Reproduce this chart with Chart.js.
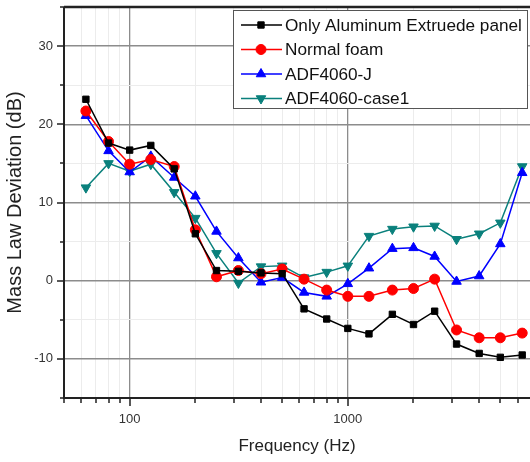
<!DOCTYPE html>
<html>
<head>
<meta charset="utf-8">
<script src="https://cdn.jsdelivr.net/npm/chart.js@4.4.1/dist/chart.umd.min.js"></script>
<style>
  html, body { margin: 0; padding: 0; background: #fff; }
</style>
</head>
<body>
<canvas id="mld-graph" width="530" height="462"></canvas>
<script>
const freqs = [63, 80, 100, 125, 160, 200, 250, 315, 400, 500, 630, 800, 1000, 1250, 1600, 2000, 2500, 3150, 4000, 5000, 6300];
const aluminum = [23.2, 17.6, 16.7, 17.3, 14.3, 6.0, 1.3, 1.2, 1.0, 0.9, -3.6, -4.9, -6.1, -6.8, -4.3, -5.6, -3.9, -8.1, -9.3, -9.8, -9.5];
const normalFoam = [21.7, 17.8, 14.9, 15.5, 14.6, 6.5, 0.5, 1.3, 0.9, 1.5, 0.2, -1.2, -2.0, -2.0, -1.2, -1.0, 0.2, -6.3, -7.3, -7.3, -6.7];
const adfJ = [21.1, 16.6, 13.9, 15.9, 13.2, 10.8, 6.3, 2.9, -0.2, 0.4, -1.5, -2.0, -0.4, 1.6, 4.1, 4.2, 3.1, -0.1, 0.6, 4.7, 13.8];
const adfCase1 = [11.9, 15.0, 14.0, 14.9, 11.3, 8.0, 3.5, -0.3, 1.8, 1.9, 0.4, 1.1, 1.9, 5.7, 6.6, 6.9, 7.0, 5.3, 6.0, 7.4, 14.6];

const xTicks = [50, 60, 70, 80, 90, 100, 200, 300, 400, 500, 600, 700, 800, 900, 1000, 2000, 3000, 4000, 5000, 6000];
const xLabels = [100, 1000];

const FONT = '"Liberation Sans", Arial, sans-serif';

function toPoints(vals) {
  return freqs.map((f, i) => ({ x: f, y: vals[i] }));
}
function isMajorX(v) { return xLabels.indexOf(v) >= 0; }
function isMajorY(v) { return Math.round(v) % 10 === 0; }

// axis frame, tick marks and the boxed legend inside the plot
const frame = {
  id: 'frame',
  afterDraw(chart) {
    const ctx = chart.ctx;
    const a = chart.chartArea;
    const xs = chart.scales.x, ys = chart.scales.y;
    ctx.save();
    ctx.strokeStyle = '#222';
    ctx.lineWidth = 2.5;
    ctx.beginPath();
    ctx.moveTo(a.left, a.top); ctx.lineTo(a.right, a.top);
    ctx.stroke();
    ctx.lineWidth = 2;
    ctx.beginPath();
    ctx.moveTo(a.left, a.top); ctx.lineTo(a.left, a.bottom);
    ctx.lineTo(a.right, a.bottom);
    ctx.stroke();
    ctx.lineWidth = 1.5;
    ctx.beginPath();
    xs.ticks.forEach(t => {
      const px = Math.round(xs.getPixelForValue(t.value));
      const len = isMajorX(t.value) ? 8 : 5;
      ctx.moveTo(px, a.bottom); ctx.lineTo(px, a.bottom + len);
    });
    ys.ticks.forEach(t => {
      const py = Math.round(ys.getPixelForValue(t.value));
      const len = isMajorY(t.value) ? 7 : 4;
      ctx.moveTo(a.left, py); ctx.lineTo(a.left - len, py);
    });
    ctx.stroke();

    const bx = 233, by = 10, bw = 294, bh = 98;
    ctx.fillStyle = '#fff';
    ctx.fillRect(bx, by, bw, bh);
    ctx.strokeStyle = '#555';
    ctx.lineWidth = 1;
    ctx.strokeRect(bx + 0.5, by + 0.5, bw, bh);
    ctx.font = '17.2px ' + FONT;
    ctx.textBaseline = 'middle';
    chart.data.datasets.forEach((ds, i) => {
      const y = by + 15 + i * 24.5;
      ctx.strokeStyle = ds.borderColor;
      ctx.fillStyle = ds.backgroundColor;
      ctx.lineWidth = 1.5;
      ctx.beginPath();
      ctx.moveTo(bx + 8, y); ctx.lineTo(bx + 49, y);
      ctx.stroke();
      ctx.lineWidth = 1;
      Chart.helpers.drawPoint(ctx, {
        pointStyle: ds.pointStyle, radius: ds.pointRadius,
        rotation: ds.pointRotation || 0, borderWidth: 1
      }, bx + 28, y);
      ctx.fillStyle = '#111';
      ctx.fillText(ds.label, bx + 52, y + 1);
    });
    ctx.restore();
  }
};

const mldChart = new Chart(document.querySelector('#mld-graph'), {
  type: 'line',
  data: {
    datasets: [{
      label: 'Only Aluminum Extruede panel',
      borderColor: '#000000',
      backgroundColor: '#000000',
      pointStyle: 'rect',
      pointRadius: 4.5,
      data: toPoints(aluminum)
    }, {
      label: 'Normal foam',
      borderColor: '#ff0000',
      backgroundColor: '#ff0000',
      pointStyle: 'circle',
      pointRadius: 5,
      data: toPoints(normalFoam)
    }, {
      label: 'ADF4060-J',
      borderColor: '#0000ff',
      backgroundColor: '#0000ff',
      pointStyle: 'triangle',
      pointRadius: 5.5,
      data: toPoints(adfJ)
    }, {
      label: 'ADF4060-case1',
      borderColor: '#0a807c',
      backgroundColor: '#0a807c',
      pointStyle: 'triangle',
      pointRotation: 180,
      pointRadius: 5.5,
      data: toPoints(adfCase1)
    }]
  },
  options: {
    responsive: false,
    animation: false,
    layout: { autoPadding: false, padding: { top: 7, right: 0, left: 0, bottom: 0 } },
    elements: {
      line: { borderWidth: 1.5, tension: 0 },
      point: { borderWidth: 1 }
    },
    plugins: {
      legend: { display: false },
      tooltip: { enabled: false }
    },
    scales: {
      x: {
        type: 'logarithmic',
        min: 50,
        max: 6840,
        afterBuildTicks(scale) {
          scale.ticks = xTicks.map(v => ({ value: v }));
        },
        afterFit(scale) {
          scale.height = 64;
          scale.paddingLeft = 0;
          scale.paddingRight = 0;
        },
        ticks: {
          autoSkip: false,
          maxRotation: 0,
          padding: 14,
          color: '#333',
          font: { family: FONT, size: 13 },
          callback: v => isMajorX(v) ? String(v) : ''
        },
        grid: {
          drawTicks: false,
          color: ctx => isMajorX(ctx.tick.value) ? '#8c8c8c' : '#ececec',
          lineWidth: ctx => isMajorX(ctx.tick.value) ? 1.3 : 1
        },
        border: { display: false },
        title: {
          display: true,
          text: 'Frequency (Hz)',
          color: '#222',
          font: { family: FONT, size: 17 },
          padding: { top: 4, bottom: 5 }
        }
      },
      y: {
        min: -15,
        max: 35,
        afterFit(scale) {
          scale.width = 64;
          scale.paddingTop = 0;
          scale.paddingBottom = 0;
        },
        ticks: {
          stepSize: 5,
          padding: 11,
          color: '#333',
          font: { family: FONT, size: 13 },
          callback: v => isMajorY(v) ? String(v) : ''
        },
        grid: {
          drawTicks: false,
          color: ctx => isMajorY(ctx.tick.value) ? '#8c8c8c' : '#ececec',
          lineWidth: ctx => isMajorY(ctx.tick.value) ? 1.5 : 1
        },
        border: { display: false },
        title: {
          display: true,
          text: 'Mass Law Deviation (dB)',
          color: '#222',
          font: { family: FONT, size: 20 },
          padding: { top: 3, bottom: 0 }
        }
      }
    }
  },
  plugins: [frame]
});
</script>
</body>
</html>
